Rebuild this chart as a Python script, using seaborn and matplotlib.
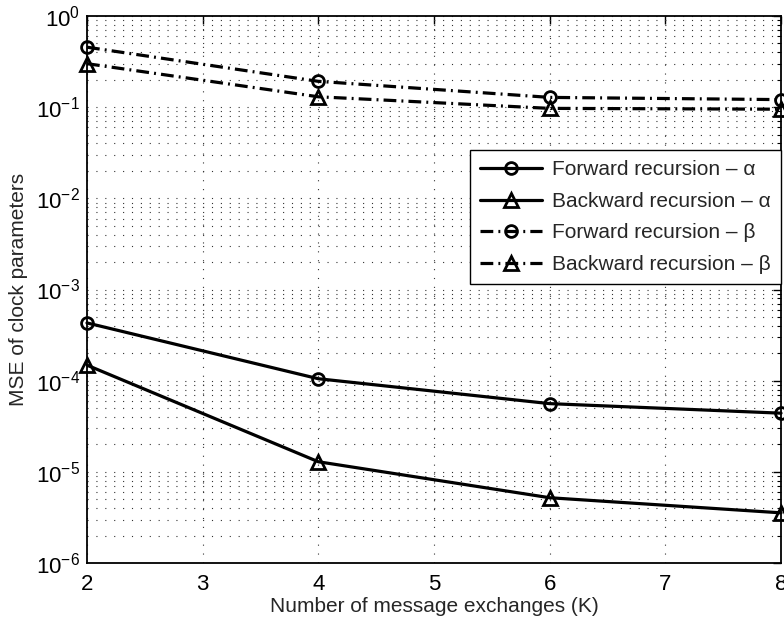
import numpy as np
import pandas as pd
import matplotlib
matplotlib.use("Agg")
import matplotlib.pyplot as plt
import seaborn as sns
from matplotlib.ticker import LogLocator, NullFormatter, FixedLocator

# Number of message exchanges
K = [2, 4, 6, 8]

# MSE of the clock skew (alpha) and offset (beta) estimates
fwd_alpha = [4.3e-4, 1.05e-4, 5.6e-5, 4.4e-5]
bwd_alpha = [1.48e-4, 1.29e-5, 5.2e-6, 3.55e-6]
fwd_beta = [0.455, 0.192, 0.128, 0.121]
bwd_beta = [0.30, 0.13, 0.097, 0.095]

labels = ["Forward recursion \u2013 \u03b1", "Backward recursion \u2013 \u03b1",
          "Forward recursion \u2013 \u03b2", "Backward recursion \u2013 \u03b2"]

sns.set_style("white")
plt.rcParams["font.family"] = ["Liberation Sans", "DejaVu Sans"]
plt.rcParams["mathtext.fontset"] = "custom"
plt.rcParams["mathtext.rm"] = "Liberation Sans"
plt.rcParams["mathtext.it"] = "Liberation Sans"
plt.rcParams["font.size"] = 13

fig = plt.figure(figsize=(7.84, 6.24), dpi=100)
ax = fig.add_axes([87 / 784, 1 - 563 / 624, (781 - 87) / 784, (563 - 16) / 624])

series = [fwd_alpha, bwd_alpha, fwd_beta, bwd_beta]
markers = ["o", "^", "o", "^"]
dashdot = [False, False, True, True]
LW = 2.3

for vals, mk, dd, lab in zip(series, markers, dashdot, labels):
    df = pd.DataFrame({"K": K, "MSE": vals})
    sns.lineplot(data=df, x="K", y="MSE", ax=ax, color="black", linewidth=LW,
                 marker=mk, markersize=10 if mk == "^" else 8.5,
                 markerfacecolor="none", markeredgecolor="black",
                 markeredgewidth=2.0, label=lab, clip_on=False, zorder=3)
    if dd:
        ax.lines[-1].set_dashes([4.0, 1.6, 0.6, 1.6])

ax.set_yscale("log")
ax.set_xlim(2, 8)
ax.set_ylim(1e-6, 1)
ax.xaxis.set_major_locator(FixedLocator(np.arange(2, 9, 1)))
ax.yaxis.set_major_locator(LogLocator(base=10, numticks=10))
ax.yaxis.set_minor_locator(LogLocator(base=10, subs=np.arange(2, 10), numticks=20))
ax.yaxis.set_minor_formatter(NullFormatter())

grid_kw = dict(linestyle=(0, (1, 7)), color="#333333", lw=0.8)
ax.grid(True, which="major", axis="x", **grid_kw)
ax.grid(True, which="both", axis="y", **grid_kw)
ax.set_axisbelow(True)

for s in ax.spines.values():
    s.set_visible(True)
    s.set_color("black")
    s.set_linewidth(1.3)

ax.tick_params(which="both", direction="in", top=True, right=True, colors="black",
               labelsize=16)
ax.tick_params(which="major", length=6, width=1.0)
ax.tick_params(which="minor", length=3, width=0.8)
ax.tick_params(axis="x", pad=8)
ax.tick_params(axis="y", pad=5)

ax.set_xlabel("Number of message exchanges (K)", fontsize=15, labelpad=1)
ax.set_ylabel("MSE of clock parameters", fontsize=15, labelpad=6)

leg = ax.legend(loc="upper right", bbox_to_anchor=(1.0, (563 - 150) / 547),
                borderaxespad=0, handlelength=3.0, fontsize=15,
                frameon=True, fancybox=False, framealpha=1, edgecolor="black",
                labelspacing=0.6, handletextpad=0.45, borderpad=0.5)
leg.get_frame().set_linewidth(1.0)

fig.savefig("out.png", dpi=100)
